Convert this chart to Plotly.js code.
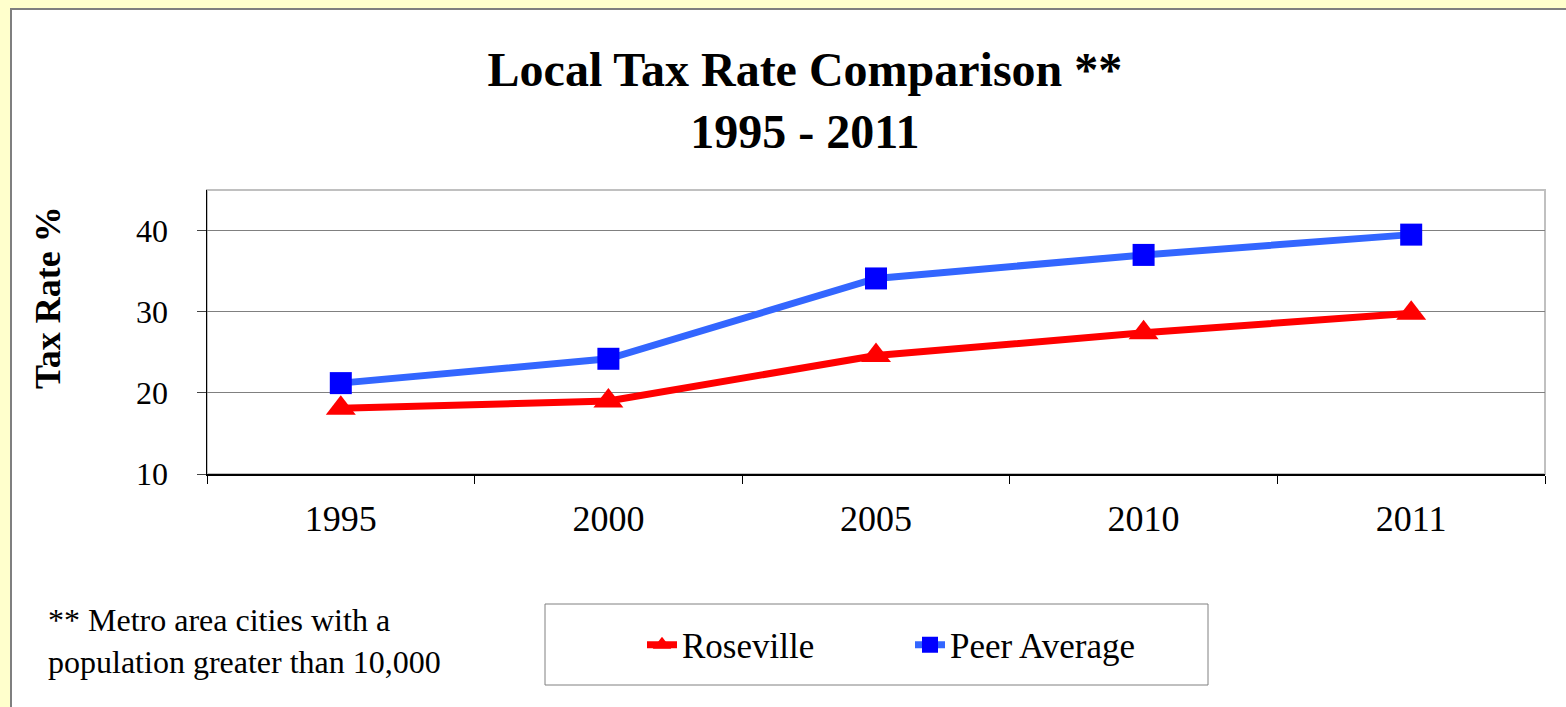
<!DOCTYPE html>
<html><head><meta charset="utf-8">
<script src="https://cdn.plot.ly/plotly-3.0.1.min.js"></script>
<style>
html,body{margin:0;padding:0;background:#FFFFCC;width:1566px;height:707px;overflow:hidden;}
#panel{position:absolute;left:10px;top:8px;width:1556px;height:699px;background:#fff;border-left:2px solid #7f7f7f;border-top:2px solid #7f7f7f;box-sizing:border-box;}
#chart{position:absolute;left:0;top:0;width:1566px;height:707px;}
</style></head><body>
<div id="panel"></div><div id="chart"></div>
<script>
const years = ['1995', '2000', '2005', '2010', '2011'];
const roseville = [18.1, 19.0, 24.6, 27.4, 29.8];
const peerAverage = [21.2, 24.2, 34.1, 37.0, 39.5];
const yTickValues = [10, 20, 30, 40];
const seriesNames = ['Roseville', 'Peer Average'];
const titleText = 'Local Tax Rate Comparison **<br>1995 - 2011';
const yTitleText = 'Tax Rate %';
const footnoteText = '** Metro area cities with a<br>population greater than 10,000';

const FONT = 'Liberation Serif, Times New Roman, serif';

const traces = [
  {
    x: years, y: roseville, name: seriesNames[0], type: 'scatter', mode: 'lines+markers',
    line: {color: '#FF0000', width: 7},
    marker: {symbol: 'triangle-up', size: 26, color: '#FF0000'}
  },
  {
    x: years, y: peerAverage, name: seriesNames[1], type: 'scatter', mode: 'lines+markers',
    line: {color: '#3366FF', width: 7},
    marker: {symbol: 'square', size: 22, color: '#0000FF'}
  }
];

const layout = {
  width: 1566, height: 707,
  paper_bgcolor: 'rgba(0,0,0,0)', plot_bgcolor: 'rgba(0,0,0,0)',
  margin: {l: 207, r: 21, t: 190, b: 233},
  font: {family: FONT, color: '#000'},
  title: {
    text: titleText,
    font: {family: FONT, size: 48, color: '#000', weight: 'bold'},
    xref: 'container', x: 0.514, xanchor: 'center',
    yref: 'container', y: 1 - 86 / 707, yanchor: 'top'
  },
  xaxis: {
    type: 'category', range: [-0.5, 4.5],
    showgrid: false, showline: true, linecolor: '#000', linewidth: 1.5,
    ticks: 'outside', tickson: 'boundaries', ticklen: 8, tickcolor: '#000', tickwidth: 1,
    tickfont: {family: FONT, size: 36, color: '#000'},
    ticklabelstandoff: 12,
    zeroline: false, fixedrange: true
  },
  yaxis: {
    range: [10, 45], tickvals: yTickValues,
    showgrid: true, gridcolor: '#808080', gridwidth: 1,
    showline: true, linecolor: '#000', linewidth: 1.5,
    ticks: 'outside', ticklen: 9, tickcolor: '#444', tickwidth: 1,
    tickfont: {family: FONT, size: 32, color: '#000'},
    ticklabelstandoff: 22,
    zeroline: false, fixedrange: true
  },
  showlegend: true,
  legend: {
    orientation: 'h', xref: 'container', yref: 'container',
    x: 642 / 1566, xanchor: 'left', y: 1 - 645 / 707, yanchor: 'middle',
    font: {family: FONT, size: 35, color: '#000'},
    bgcolor: 'rgba(0,0,0,0)', borderwidth: 0,
    entrywidth: 223, entrywidthmode: 'pixels'
  },
  shapes: [
    {type: 'rect', xref: 'paper', yref: 'paper', x0: 0, x1: 1, y0: 0, y1: 1,
     line: {color: '#C0C0C0', width: 2}, layer: 'below'},
    {type: 'rect', xref: 'paper', yref: 'paper', x0: (545 - 207) / 1338, x1: (1208 - 207) / 1338,
     y0: (474 - 604) / 284, y1: (474 - 685) / 284,
     line: {color: '#808080', width: 1}, fillcolor: 'rgba(0,0,0,0)'}
  ],
  annotations: [
    {text: yTitleText, xref: 'paper', yref: 'paper', x: (48 - 207) / 1338, xanchor: 'center',
     y: (474 - 298) / 284, yanchor: 'middle', textangle: -90, showarrow: false,
     font: {family: FONT, size: 36, color: '#000', weight: 'bold'}},
    {text: footnoteText, xref: 'paper', yref: 'paper', x: (46 - 207) / 1338, xanchor: 'left',
     y: (474 - 641) / 284, yanchor: 'middle', align: 'left', showarrow: false,
     font: {family: FONT, size: 32, color: '#000'}}
  ]
};

Plotly.newPlot('chart', traces, layout, {displayModeBar: false, staticPlot: true});
</script>
</body></html>
